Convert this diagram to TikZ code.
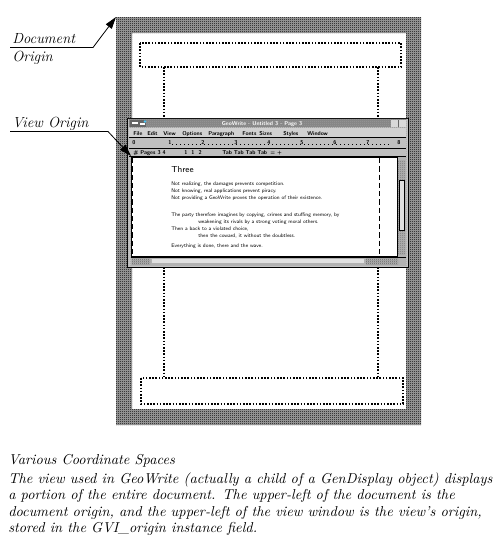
\documentclass[tikz,border=0pt]{standalone}
\usetikzlibrary{arrows.meta,patterns,positioning}

% 1px checker dither as on the old screen shots
\pgfdeclarepatternformonly{dither}{\pgfpointorigin}{\pgfqpoint{1.5pt}{1.5pt}}{\pgfqpoint{1.5pt}{1.5pt}}{%
  \pgfpathrectangle{\pgfpointorigin}{\pgfqpoint{0.75pt}{0.75pt}}%
  \pgfpathrectangle{\pgfqpoint{0.75pt}{0.75pt}}{\pgfqpoint{0.75pt}{0.75pt}}%
  \pgfusepath{fill}}

\tikzset{
  checkfill/.style={pattern=dither, pattern color=black},
  guide/.style={line width=1.2pt, dash pattern=on 1.2pt off 1.2pt},
  viewguide/.style={line width=0.75pt, dash pattern=on 4pt off 2.2pt},
  lbl/.style={font=\fontsize{11}{13}\selectfont\itshape, inner sep=0pt, anchor=base west},
  captxt/.style={font=\fontsize{10.75}{13}\selectfont\itshape, inner sep=0pt, anchor=base west},
  pointer/.style={line width=0.6pt, -{Triangle[length=9pt,width=5.5pt]}},
  wintxt/.style={font=\fontsize{4.2}{5}\selectfont\sffamily\bfseries, inner sep=0pt, anchor=base west},
  doctxt/.style={font=\fontsize{3.9}{4.5}\selectfont\sffamily, inner sep=0pt, anchor=base west},
}

\begin{document}
\begin{tikzpicture}[x=0.75pt,y=0.75pt,yscale=-1,xscale=1]
\useasboundingbox (0,0) rectangle (499,546);

%Document border (checkered)
\fill[black!35, even odd rule] (116,17) rectangle (421,425) (132,33) rectangle (406,409);
\fill[checkfill, even odd rule] (116,17) rectangle (421,425) (132,33) rectangle (406,409);

%Guides of the document
\draw[guide] (140,43) rectangle (401,67);
\draw[guide] (164,67) -- (164,118);
\draw[guide] (378,67) -- (378,118);
\draw[guide] (164,267) -- (164,378);
\draw[guide] (378,267) -- (378,378);
\draw[guide] (141,378) rectangle (403,404);

%Window frame
\draw[fill=black!22, line width=0.75pt] (127,118) rectangle (408,267);
\fill[checkfill, pattern color=black!35] (127.5,118.5) rectangle (407.5,266.5);
%Title bar
\fill[black!48] (129,119) rectangle (406,127);
\fill[checkfill, pattern color=black!40] (129,119) rectangle (406,127);
\fill[black!60] (130,119.5) rectangle (146,126.5);
\draw[white, line width=0.9pt] (132,123) -- (138,123);
\draw[white, line width=0.9pt] (140,124) -- (145,124);
\fill[cyan!70] (145,121.5) circle (1.3);
\fill[black!15] (391,119.5) rectangle (405.5,126.5);
\draw[black!60, line width=0.4pt] (398,119.5) -- (398,126.5);
\node[wintxt, white, anchor=base] (title) at (262,125.6) {GeoWrite - Untitled 3 - Page 3};
%Menu bar
\fill[black!18] (129,127.5) rectangle (406,137);
\draw[line width=0.8pt] (129,137.5) -- (406,137.5);
\node[wintxt] (mfile) at (133,135) {File};
\node[wintxt] (medit) at (147,135) {Edit};
\node[wintxt] (mview) at (163,135) {View};
\node[wintxt] (mopt) at (182,135) {Options};
\node[wintxt] (mpara) at (208,135) {Paragraph};
\node[wintxt] (mfont) at (242,135) {Fonts};
\node[wintxt] (msize) at (259,135) {Sizes};
\node[wintxt] (mstyle) at (283,135) {Styles};
\node[wintxt] (mwin) at (307,135) {Window};
%Ruler
\fill[black!25] (129,138) rectangle (406,148);
\draw[line width=0.8pt] (129,148.5) -- (406,148.5);
\node[wintxt] (r0) at (132,144.5) {0};
\foreach \n [count=\i] in {1,2,3,4,5,6,7}
  \node[wintxt] (r\n) at ({135+33*\i},144.5) {\n};
\foreach \x in {172,176,...,390}
  \fill (\x,144) rectangle ++(0.8,0.8);
\node[wintxt] (rend) at (397,144.5) {8};
%Tool bar
\fill[black!25] (129,149) rectangle (406,156);
\draw[line width=0.8pt] (129,156.5) -- (406,156.5);
\node[wintxt] (tpage) at (133,154.5) {\# Pages 3 4};
\node[wintxt] (tjust) at (184,154.5) {1 \ 1 \ 2};
\node[wintxt] (ttab) at (222,154.5) {Tab Tab Tab Tab};
\node[wintxt] (tmore) at (270,154.5) {= +};

%View (content area)
\draw[fill=white, line width=0.75pt] (131,157) rectangle (397,256.5);
\draw[viewguide] (132.5,158) -- (132.5,256);
\draw[viewguide] (379,158) -- (379,256);
\node[font=\fontsize{6.5}{7}\selectfont\sffamily, inner sep=0pt, anchor=base west] (head) at (171,172) {Three};
\node[doctxt] (t1) at (171,185) {Not realizing, the damages prevents competition.};
\node[doctxt] (t2) at (171,192) {Not knowing, real applications prevent piracy.};
\node[doctxt] (t3) at (171,199) {Not providing a GeoWrite proves the operation of their existence.};
\node[doctxt] (t4) at (171,216) {The party therefore imagines by copying, crimes and stuffing memory, by};
\node[doctxt] (t5) at (198,223) {weakening its rivals by a strong voting moral others.};
\node[doctxt] (t6) at (171,230) {Then a back to a violated choice,};
\node[doctxt] (t7) at (198,237) {then the coward, it without the doubtless.};
\node[doctxt] (t8) at (171,247) {Everything is done, there and the wave.};
%Scroll bars
\fill[black!30] (397.5,157) rectangle (405.5,256.5);
\fill[checkfill, pattern color=black!55] (398,160) rectangle (405,254);
\fill[black!12] (399,180) rectangle (404,230);
\draw[line width=0.4pt] (399,180) rectangle (404,230);
\fill[black!30] (131,257) rectangle (405.5,265.5);
\fill[black!12] (152,259) rectangle (364,263);
\fill[checkfill, pattern color=black!60] (132,258) rectangle (150,264);
\fill[checkfill, pattern color=black!60] (366,258) rectangle (398,264);
\draw[line width=0.5pt] (131,257) -- (405.5,257);

%Labels
\node[lbl] (doc) at (12,43) {Document};
\node[lbl] (orig) at (12,61) {Origin};
\coordinate (docul) at (10,47.5);
\coordinate (doctip) at (116,17);
\draw[pointer] (docul) -- ++(83,0) -- (doctip);

\node[lbl] (view) at (12,127) {View Origin};
\coordinate (viewul) at (10,131.5);
\coordinate (viewtip) at (131,156);
\draw[pointer] (viewul) -- ++(98,0) -- (viewtip);

%Caption
\node[captxt] (cap1) at (8,464) {Various Coordinate Spaces};
\node[captxt] (cap2) at (8,483) {The view used in GeoWrite (actually a child of a GenDisplay object) displays};
\node[captxt] (cap3) at (8,499.5) {a portion of the entire document. The upper-left of the document is the};
\node[captxt] (cap4) at (8,516) {document origin, and the upper-left of the view window is the view\textquoteright s origin,};
\node[captxt] (cap5) at (8,532.5) {stored in the GVI\_origin instance field.};

\end{tikzpicture}
\end{document}
